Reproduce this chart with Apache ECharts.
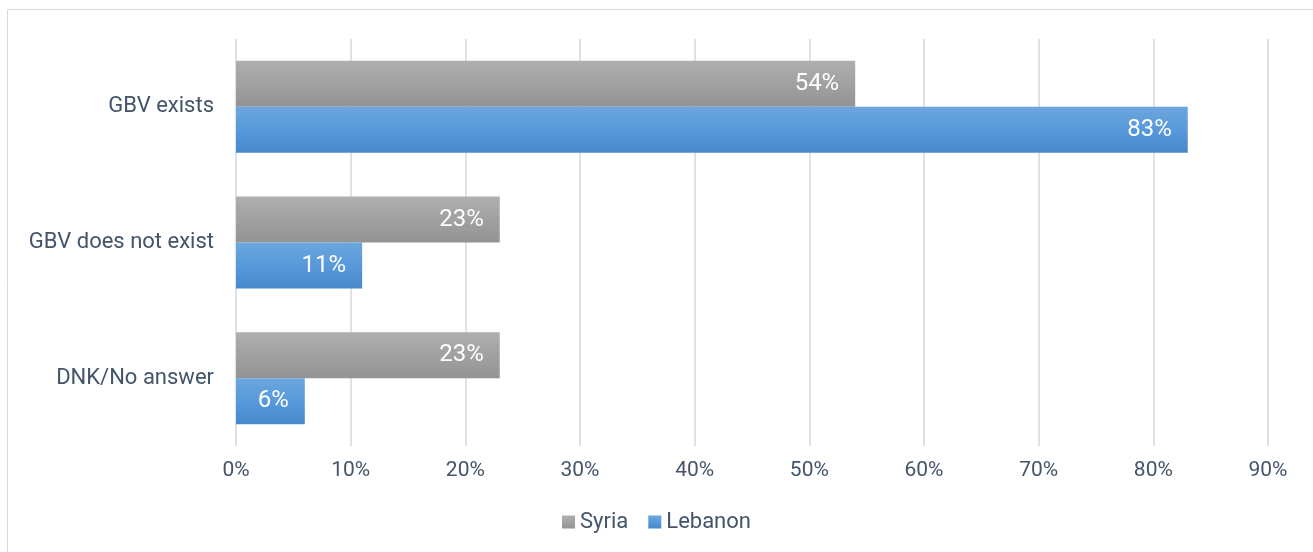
<!DOCTYPE html>
<html><head><meta charset="utf-8">
<script src="https://cdn.jsdelivr.net/npm/echarts@6/dist/echarts.min.js"></script>
<style>html,body{margin:0;padding:0;background:#fff}#c{width:1313px;height:552px}</style>
</head><body><div id="c"></div>
<script>
const categories = ['GBV exists', 'GBV does not exist', 'DNK/No answer'];
const syria = [54, 23, 23];
const lebanon = [83, 11, 6];
const tickMax = 90;

const FONT = 'Roboto';
const txt = '#44546a';
const chart = echarts.init(document.getElementById('c'));
const grayGrad = new echarts.graphic.LinearGradient(0, 0, 0, 1, [{offset: 0, color: '#afafaf'}, {offset: 1, color: '#939393'}]);
const blueGrad = new echarts.graphic.LinearGradient(0, 0, 0, 1, [{offset: 0, color: '#6ca7de'}, {offset: 0.5, color: '#5799da'}, {offset: 1, color: '#4688c8'}]);
chart.setOption({
  animation: false,
  textStyle: {fontFamily: FONT},
  graphic: [{type: 'rect', shape: {x: 7.5, y: 9.5, width: 1320, height: 560}, style: {fill: 'none', stroke: '#d9d9d9', lineWidth: 1}, silent: true}],
  grid: {left: 236, right: 45, top: 39, bottom: 106},
  legend: {
    bottom: 14, left: 'center', itemWidth: 13, itemHeight: 13, itemGap: 20,
    icon: 'rect',
    textStyle: {color: txt, fontSize: 22, fontFamily: FONT},
    data: ['Syria', 'Lebanon']
  },
  xAxis: {
    type: 'value', min: 0, max: tickMax, interval: 10,
    axisLine: {show: false}, axisTick: {show: false},
    axisLabel: {formatter: '{value}%', color: txt, fontSize: 21, margin: 14, fontFamily: FONT},
    splitLine: {lineStyle: {color: '#dde1e8', width: 2}}
  },
  yAxis: {
    type: 'category', data: categories, inverse: true,
    axisLine: {show: false}, axisTick: {show: false},
    axisLabel: {color: txt, fontSize: 22, margin: 22, fontFamily: FONT}
  },
  series: [
    {name: 'Syria', type: 'bar', data: syria, barWidth: 46, barGap: '0%', itemStyle: {color: grayGrad},
     label: {show: true, position: 'insideRight', distance: 16, color: '#fff', fontSize: 24, fontFamily: FONT, formatter: '{c}%'}},
    {name: 'Lebanon', type: 'bar', data: lebanon, barWidth: 46, barGap: '0%', itemStyle: {color: blueGrad},
     label: {show: true, position: 'insideRight', distance: 16, color: '#fff', fontSize: 24, fontFamily: FONT, formatter: '{c}%'}}
  ]
});
</script></body></html>
